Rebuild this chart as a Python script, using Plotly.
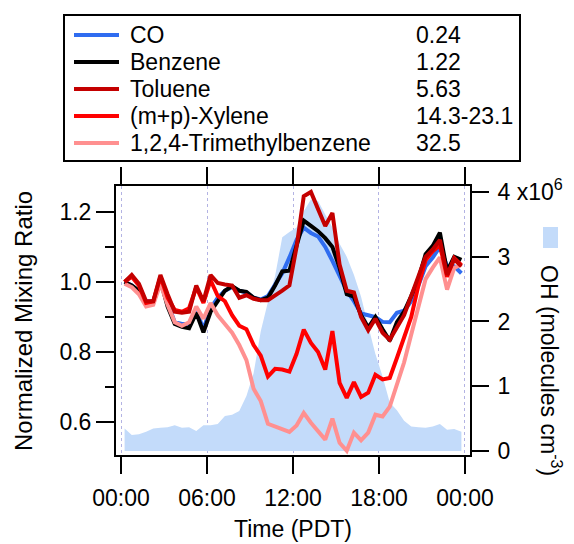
import plotly.graph_objects as go

# ---------------- data ----------------
hours = [0.25 + 0.5 * i for i in range(48)]

co = [1.0, 0.99, 0.97, 0.945, 0.945, 1.005, 0.94, 0.885, 0.88, 0.88, 0.92, 0.865,
      0.925, 0.955, 0.975, 0.985, 0.975, 0.97, 0.955, 0.95, 0.96, 0.99, 1.025, 1.07,
      1.12, 1.155, 1.14, 1.13, 1.1, 1.06, 1.02, 0.975, 0.945, 0.91, 0.905, 0.9,
      0.886, 0.885, 0.912, 0.918, 0.945, 0.99, 1.045, 1.07, 1.1, 1.045, 1.045, 1.025]

benzene = [1.0, 0.99, 0.975, 0.94, 0.942, 1.005, 0.93, 0.88, 0.872, 0.868, 0.912, 0.856,
           0.915, 0.945, 0.975, 0.988, 0.975, 0.972, 0.955, 0.948, 0.955, 0.99, 1.03, 1.032,
           1.10, 1.175, 1.16, 1.145, 1.125, 1.1, 1.04, 0.965, 0.958, 0.905, 0.87, 0.9,
           0.865, 0.832, 0.885, 0.915, 0.96, 1.008, 1.079, 1.103, 1.141, 1.03, 1.072, 1.063]

toluene = [1.0, 1.02, 0.995, 0.945, 0.945, 1.02, 0.965, 0.915, 0.912, 0.915, 0.99, 0.945,
           1.02, 0.997, 0.993, 0.99, 0.955, 0.962, 0.952, 0.948, 0.948, 0.96, 0.975, 0.99,
           1.10, 1.245, 1.257, 1.208, 1.16, 1.197, 1.05, 0.975, 0.97, 0.9, 0.862, 0.895,
           0.855, 0.835, 0.87, 0.905, 0.96, 1.015, 1.072, 1.093, 1.12, 1.02, 1.065, 1.045]

xylene = [1.0, 1.015, 0.99, 0.94, 0.945, 1.015, 0.955, 0.92, 0.915, 0.925, 0.985, 0.94,
          1.005, 0.96, 0.945, 0.905, 0.875, 0.865, 0.82, 0.79, 0.73, 0.752, 0.75, 0.744,
          0.795, 0.864, 0.826, 0.8, 0.75, 0.86, 0.712, 0.669, 0.714, 0.672, 0.684, 0.735,
          0.722, 0.726, 0.783, 0.84, 0.9, 0.99, 1.062, 1.088, 1.105, 1.015, 1.068, 1.048]

tmb = [0.995, 0.985, 0.965, 0.93, 0.935, 0.995, 0.935, 0.885, 0.875, 0.885, 0.93, 0.895,
       0.94, 0.905, 0.88, 0.855, 0.82, 0.777, 0.695, 0.66, 0.595, 0.588, 0.578, 0.572,
       0.59, 0.626, 0.598, 0.572, 0.55, 0.61, 0.541, 0.518, 0.57, 0.548, 0.57, 0.621,
       0.616, 0.644, 0.71, 0.77, 0.85, 0.93, 1.008, 1.041, 1.07, 0.978, 1.04, 1.05]

oh = [0.35, 0.25, 0.26, 0.30, 0.35, 0.36, 0.37, 0.40, 0.36, 0.37, 0.31, 0.40,
      0.40, 0.42, 0.54, 0.56, 0.62, 0.85, 1.2, 1.85, 2.3, 2.7, 3.3, 3.38,
      3.45, 3.7, 3.88, 3.86, 3.65, 3.45, 3.2, 3.0, 2.72, 2.38, 1.93, 1.5,
      1.15, 0.75, 0.63, 0.47, 0.38, 0.37, 0.36, 0.38, 0.42, 0.33, 0.34, 0.30]
oh_scaled = [v * 1e6 for v in oh]

names = ["CO", "Benzene", "Toluene", "(m+p)-Xylene", "1,2,4-Trimethylbenzene"]
kvalues = ["0.24", "1.22", "5.63", "14.3-23.1", "32.5"]
colors = ["#2f6cf0", "#000000", "#c40000", "#ff0000", "#ff9090"]
series = [co, benzene, toluene, xylene, tmb]

x_tickvals = [0, 6, 12, 18, 24]
x_ticktext = ["00:00", "06:00", "12:00", "18:00", "00:00"]
y_tickvals = [0.6, 0.8, 1.0, 1.2]
y_ticktext = ["0.6", "0.8", "1.0", "1.2"]
y_minorvals = [0.7, 0.9, 1.1]
oh_tickvals = [0, 1e6, 2e6, 3e6, 4e6]
oh_ticktext = ["0", "1", "2", "3", "4 x10<sup>6</sup>"]

# ---------------- geometry helpers ----------------
W, H = 574, 544
L, R, T, B = 116, 470, 186, 455
def xp(px):
    return (px - L) / (R - L)
def yp(py):
    return (B - py) / (B - T)

FONT = "Liberation Sans, Arial, sans-serif"
FS = 23

fig = go.Figure()

# OH fill on the primary (right-side) axis so it is drawn beneath the lines
fig.add_trace(go.Scatter(x=hours, y=oh_scaled, yaxis="y", mode="none", fill="tozeroy",
                         fillcolor="#c3dbfa", showlegend=False, hoverinfo="skip"))

order = [0, 1, 4, 3, 2]
for k in order:
    fig.add_trace(go.Scatter(x=hours, y=series[k], yaxis="y2", mode="lines", name=names[k],
                             line=dict(color=colors[k], width=4), showlegend=False))

fig.update_layout(
    width=W, height=H,
    margin=dict(l=L, r=W - R, t=T, b=H - B, pad=0),
    paper_bgcolor="white", plot_bgcolor="white",
    font=dict(family=FONT, size=FS, color="black"),
    showlegend=False,
    xaxis=dict(range=[-0.35, 24.35], tickvals=x_tickvals, ticktext=x_ticktext,
               showline=True, linecolor="black", linewidth=2, mirror="ticks",
               ticks="outside", ticklen=17, tickwidth=2, tickcolor="black",
               showgrid=True, gridcolor="#b3b3e3", griddash="dot", gridwidth=1,
               zeroline=False, tickfont=dict(size=FS), ticklabelstandoff=4),
    yaxis=dict(range=[-0.06e6, 4.09e6], side="right",
               tickvals=oh_tickvals, ticktext=oh_ticktext,
               showline=True, linecolor="black", linewidth=2,
               ticks="outside", ticklen=17, tickwidth=2, tickcolor="black",
               showgrid=False, zeroline=False, tickfont=dict(size=FS),
               ticklabelstandoff=4),
    yaxis2=dict(range=[0.506, 1.274], overlaying="y", side="left",
                tickvals=y_tickvals, ticktext=y_ticktext,
                showline=True, linecolor="black", linewidth=2,
                ticks="outside", ticklen=18, tickwidth=2, tickcolor="black",
                minor=dict(tickvals=y_minorvals, ticks="outside", ticklen=9,
                           tickwidth=2, tickcolor="black", showgrid=False),
                showgrid=False, zeroline=False, tickfont=dict(size=FS)),
)

shapes = []
annotations = []

# legend box
shapes.append(dict(type="rect", xref="paper", yref="paper",
                   x0=xp(64), x1=xp(520), y0=yp(161), y1=yp(15),
                   line=dict(color="black", width=2), fillcolor="white", layer="above"))
legend_y = [35, 62, 89, 116, 143]
for k in range(5):
    shapes.append(dict(type="line", xref="paper", yref="paper",
                       x0=xp(74), x1=xp(119), y0=yp(legend_y[k]), y1=yp(legend_y[k]),
                       line=dict(color=colors[k], width=4)))
    annotations.append(dict(text=names[k], xref="paper", yref="paper",
                            x=xp(128), y=yp(legend_y[k]), xanchor="left", yanchor="middle",
                            showarrow=False, font=dict(size=FS)))
    annotations.append(dict(text=kvalues[k], xref="paper", yref="paper",
                            x=xp(414), y=yp(legend_y[k]), xanchor="left", yanchor="middle",
                            showarrow=False, font=dict(size=FS)))

# OH legend square
shapes.append(dict(type="rect", xref="paper", yref="paper",
                   x0=xp(543), x1=xp(558), y0=yp(248), y1=yp(227),
                   line=dict(width=0), fillcolor="#c3dbfa"))

# axis titles
annotations.append(dict(text="Normalized Mixing Ratio", xref="paper", yref="paper",
                        x=xp(23), y=yp(321), textangle=-90, showarrow=False,
                        xanchor="center", yanchor="middle", font=dict(size=24)))
annotations.append(dict(text="Time (PDT)", xref="paper", yref="paper",
                        x=xp(293), y=yp(529), showarrow=False,
                        xanchor="center", yanchor="middle", font=dict(size=FS)))
annotations.append(dict(text="OH (molecules cm<sup>-3</sup>)", xref="paper", yref="paper",
                        x=xp(551), y=yp(370), textangle=90, showarrow=False,
                        xanchor="center", yanchor="middle", font=dict(size=FS)))

fig.update_layout(shapes=shapes, annotations=annotations)
fig.write_html("out.html")
